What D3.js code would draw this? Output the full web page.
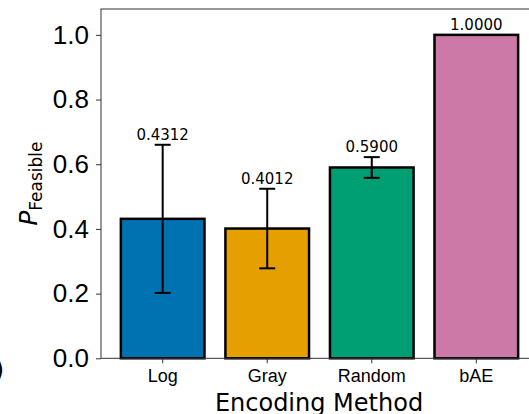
<!DOCTYPE html>
<html>
<head>
<meta charset="utf-8">
<script src="https://cdn.jsdelivr.net/npm/d3@7"></script>
<style>
  body { margin: 0; background: #fff; }
  svg { display: block; font-family: "DejaVu Sans", sans-serif; }
</style>
</head>
<body>
<svg width="529" height="414"></svg>
<script>
// data
const methods = ["Log", "Gray", "Random", "bAE"];
const pFeasible = [0.4312, 0.4012, 0.5900, 1.0000];
const errors = [0.229, 0.123, 0.032, 0];
const barColors = ["#0072b2", "#e69f00", "#009e73", "#cc79a7"];
const yTicks = [0, 0.2, 0.4, 0.6, 0.8, 1.0];

const svg = d3.select("svg");
const plotLeft = 101, plotRight = 538, plotTop = 9, plotBottom = 358.3;

const x = d3.scaleBand()
    .domain(methods)
    .range([plotLeft, plotRight])
    .paddingInner(0.2)
    .paddingOuter(0.19);

const y = d3.scaleLinear()
    .domain([0, 1.08])
    .range([plotBottom, plotTop]);

// neighbouring panel label cut at the left edge
svg.append("text")
    .attr("x", 4)
    .attr("y", 378)
    .attr("text-anchor", "end")
    .style("font-size", "24px")
    .text("(b)");

// bars
svg.append("g")
    .selectAll("rect")
    .data(methods)
    .enter().append("rect")
    .attr("x", d => x(d))
    .attr("y", (d, i) => y(pFeasible[i]))
    .attr("width", x.bandwidth())
    .attr("height", (d, i) => y(0) - y(pFeasible[i]))
    .attr("fill", (d, i) => barColors[i])
    .attr("stroke", "#000")
    .attr("stroke-width", 2.5);

// error bars
const eb = svg.append("g")
    .selectAll("g")
    .data(methods.filter((d, i) => errors[i] > 0))
    .enter().append("g")
    .attr("stroke", "#000")
    .attr("stroke-width", 2);

const cx = d => x(d) + x.bandwidth() / 2;
const idx = d => methods.indexOf(d);

eb.append("line")
    .attr("x1", cx).attr("x2", cx)
    .attr("y1", d => y(pFeasible[idx(d)] - errors[idx(d)]))
    .attr("y2", d => y(pFeasible[idx(d)] + errors[idx(d)]));
eb.append("line")
    .attr("x1", d => cx(d) - 8).attr("x2", d => cx(d) + 8)
    .attr("y1", d => y(pFeasible[idx(d)] + errors[idx(d)]))
    .attr("y2", d => y(pFeasible[idx(d)] + errors[idx(d)]));
eb.append("line")
    .attr("x1", d => cx(d) - 8).attr("x2", d => cx(d) + 8)
    .attr("y1", d => y(pFeasible[idx(d)] - errors[idx(d)]))
    .attr("y2", d => y(pFeasible[idx(d)] - errors[idx(d)]));

// value labels
svg.append("g")
    .selectAll("text")
    .data(methods)
    .enter().append("text")
    .attr("x", cx)
    .attr("y", (d, i) => y(pFeasible[i] + errors[i]) - 5)
    .attr("text-anchor", "middle")
    .style("font-size", "15px")
    .text((d, i) => pFeasible[i].toFixed(4));

// axes
const yAxis = svg.append("g")
    .attr("transform", "translate(" + plotLeft + ",0)")
    .call(d3.axisLeft(y).tickValues(yTicks).tickFormat(d3.format(".1f")).tickSize(5).tickPadding(7));
yAxis.selectAll("text").style("font-size", "26px").attr("fill", "#000");

const xAxis = svg.append("g")
    .attr("transform", "translate(0," + plotBottom + ")")
    .call(d3.axisBottom(x).tickSize(5).tickPadding(6));
xAxis.selectAll("text").style("font-size", "18px").attr("fill", "#000");

svg.selectAll(".domain").remove();
svg.selectAll(".tick line").attr("stroke", "#333");

// spines
svg.append("rect")
    .attr("x", plotLeft).attr("y", plotTop)
    .attr("width", plotRight - plotLeft).attr("height", plotBottom - plotTop)
    .attr("fill", "none")
    .attr("stroke", "#333")
    .attr("stroke-width", 1);

// axis titles
svg.append("text")
    .attr("x", (plotLeft + plotRight) / 2 - 0.5)
    .attr("y", 411)
    .attr("text-anchor", "middle")
    .style("font-size", "24px")
    .text("Encoding Method");

const yl = svg.append("text")
    .attr("transform", "translate(37," + ((plotTop + plotBottom) / 2) + ") rotate(-90)")
    .attr("text-anchor", "middle");
yl.append("tspan")
    .style("font-size", "25px")
    .style("font-style", "italic")
    .text("P");
yl.append("tspan")
    .attr("dy", 5)
    .style("font-size", "17px")
    .text("Feasible");
</script>
</body>
</html>
